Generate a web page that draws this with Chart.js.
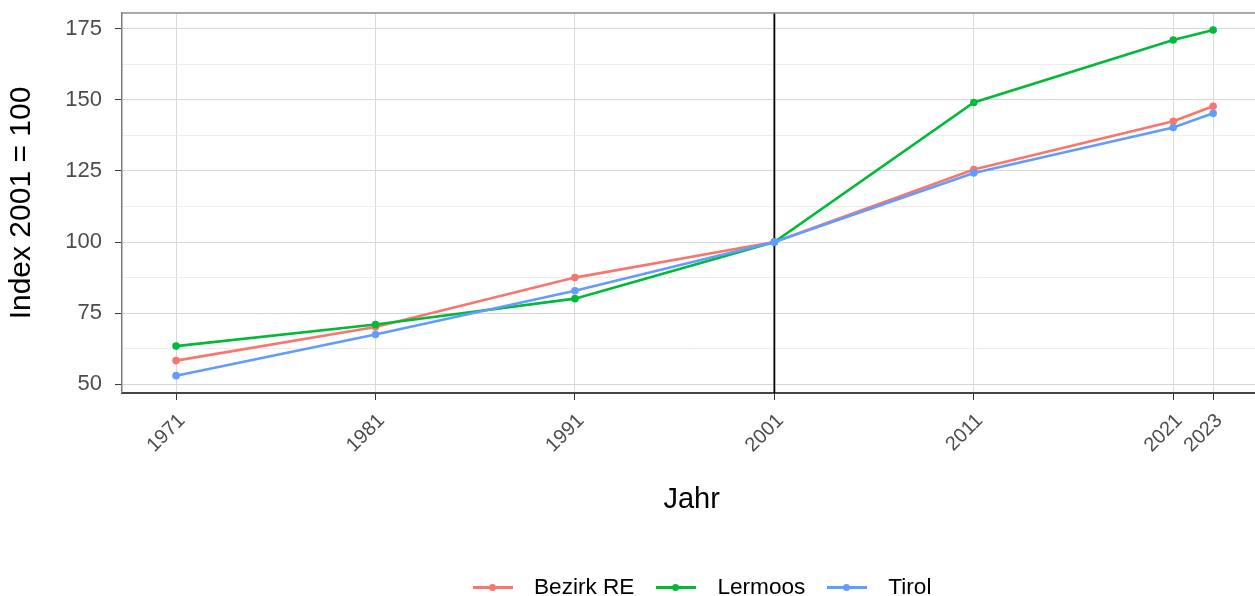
<!DOCTYPE html>
<html>
<head>
<meta charset="utf-8">
<script src="https://cdn.jsdelivr.net/npm/chart.js@4.4.1/dist/chart.umd.min.js"></script>
<style>
  html, body { margin:0; padding:0; background:#fff; }
  #wrap { position:relative; width:1255px; height:596px; overflow:hidden; }
  #c { position:absolute; left:0; top:0; }
  #legend { position:absolute; left:0; top:576px; width:1255px; height:22px; display:flex; justify-content:flex-start; align-items:center;
            font-family:"Liberation Sans", Arial, sans-serif; font-size:22.6px; color:#000; padding-left:462px; box-sizing:border-box; }
  .item { display:flex; align-items:center; margin:0 11px; }
  .key { position:relative; width:40px; height:22px; margin-right:21px; }
  .key .ln { position:absolute; left:0; right:0; top:10px; height:3px; }
  .key .dt { position:absolute; left:16px; top:8px; width:7px; height:7px; border-radius:50%; }
</style>
</head>
<body>
<div id="wrap">
  <canvas id="c" width="1265" height="596"></canvas>
  <div id="legend"></div>
</div>
<script>
const years = [1971, 1981, 1991, 2001, 2011, 2021, 2023];
const seriesNames = ["Bezirk RE", "Lermoos", "Tirol"];
const bezirkRE = [58.3, 70.1, 87.5, 100, 125.5, 142.5, 147.8];
const lermoos  = [63.4, 71.0, 80.1, 100, 149.1, 171.1, 174.6];
const tirol    = [53.0, 67.5, 82.9, 100, 124.3, 140.3, 145.3];
const yTickLabels = [50, 75, 100, 125, 150, 175];
const xTickLabels = years;
const refYear = 2001;
const colors = ["#F8766D", "#00BA38", "#619CFF"];

const FONT = '"Liberation Sans", Arial, sans-serif';
const allSeries = [bezirkRE, lermoos, tirol];

const datasets = allSeries.map((vals, i) => ({
  label: seriesNames[i],
  data: years.map((y, j) => ({x: y, y: vals[j]})),
  borderColor: colors[i],
  backgroundColor: colors[i],
  borderWidth: 2.6,
  pointRadius: 3.8,
  pointHoverRadius: 3.8,
  pointBorderWidth: 0,
  tension: 0,
  order: 3 - i
}));

// minor y grid lines midway between major ticks
const yGridValues = [];
yTickLabels.forEach((v, i) => {
  yGridValues.push(v);
  if (i < yTickLabels.length - 1) yGridValues.push((v + yTickLabels[i + 1]) / 2);
});

const decor = {
  id: 'decor',
  beforeDatasetsDraw(chart) {
    const {ctx, chartArea, scales} = chart;
    const x = scales.x.getPixelForValue(refYear);
    ctx.save();
    ctx.strokeStyle = '#000';
    ctx.lineWidth = 1.8;
    ctx.beginPath();
    ctx.moveTo(x, chartArea.top);
    ctx.lineTo(x, chartArea.bottom);
    ctx.stroke();
    ctx.restore();
  },
  afterDraw(chart) {
    const {ctx, chartArea} = chart;
    ctx.save();
    ctx.strokeStyle = '#8c8c8c';
    ctx.lineWidth = 1.6;
    ctx.beginPath();
    ctx.moveTo(chartArea.left, chartArea.top);
    ctx.lineTo(chartArea.right, chartArea.top);
    ctx.stroke();
    ctx.restore();
  }
};

new Chart(document.getElementById('c'), {
  type: 'line',
  data: { datasets },
  plugins: [decor],
  options: {
    responsive: false,
    animation: false,
    events: [],
    layout: { padding: { top: 13, right: 0, left: 0, bottom: 0 } },
    plugins: { legend: { display: false }, tooltip: { enabled: false } },
    scales: {
      x: {
        type: 'linear',
        min: 1968.29,
        max: 2025.41,
        afterBuildTicks(scale) { scale.ticks = xTickLabels.map(v => ({value: v})); },
        afterFit(scale) { scale.height = 596 - 393; scale.paddingLeft = 0; scale.paddingRight = 0; },
        ticks: {
          autoSkip: false,
          minRotation: 45, maxRotation: 45,
          padding: 9,
          labelOffset: 6,
          color: '#4d4d4d',
          font: { family: FONT, size: 20 },
          callback: v => String(v)
        },
        grid: { color: '#d9d9d9', lineWidth: 1, tickLength: 7, tickColor: '#333333', tickWidth: 1 },
        border: { display: true, color: '#444444', width: 2 },
        title: {
          display: true, text: 'Jahr', color: '#000',
          font: { family: FONT, size: 29 },
          padding: { top: 0, bottom: 79 }
        }
      },
      y: {
        type: 'linear',
        min: 46.9,
        max: 180.6,
        afterBuildTicks(scale) { scale.ticks = yGridValues.map(v => ({value: v})); },
        afterFit(scale) { scale.width = 122; scale.paddingTop = 0; scale.paddingBottom = 0; },
        ticks: {
          autoSkip: false,
          padding: 13,
          color: '#4d4d4d',
          font: { family: FONT, size: 22 },
          callback: v => (yTickLabels.includes(v) ? String(v) : '')
        },
        grid: {
          color: ctx => (yTickLabels.includes(ctx.tick && ctx.tick.value) ? '#d6d6d6' : '#e9e9e9'),
          lineWidth: ctx => (yTickLabels.includes(ctx.tick && ctx.tick.value) ? 1.1 : 0.8),
          tickLength: 7,
          tickColor: ctx => (yTickLabels.includes(ctx.tick && ctx.tick.value) ? '#333333' : 'rgba(0,0,0,0)'),
          tickWidth: 1
        },
        border: { display: true, color: '#7a7a7a', width: 1.5 },
        title: {
          display: true, text: 'Index 2001 = 100', color: '#000',
          font: { family: FONT, size: 30 },
          padding: { top: 4, bottom: 0 }
        }
      }
    }
  }
});

// HTML legend built from the series
const lg = document.getElementById('legend');
seriesNames.forEach((name, i) => {
  const it = document.createElement('div');
  it.className = 'item';
  it.innerHTML = '<div class="key"><div class="ln" style="background:' + colors[i] + '"></div><div class="dt" style="background:' + colors[i] + '"></div></div><span>' + name + '</span>';
  lg.appendChild(it);
});
</script>
</body>
</html>
